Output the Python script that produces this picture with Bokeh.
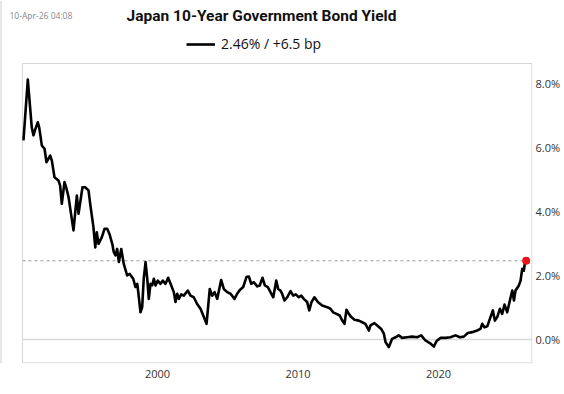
from bokeh.plotting import figure
from bokeh.models import (Range1d, FixedTicker, PrintfTickFormatter, Span, Label,
                          Legend, LegendItem)
from bokeh.embed import file_html
from bokeh.resources import INLINE

TITLE = "Japan 10-Year Government Bond Yield"
STAMP = "10-Apr-26 04:08"
LEGEND_LABEL = "2.46% / +6.5 bp"
LAST_VALUE = 2.46

x_ticks = [2000, 2010, 2020]
y_ticks = [0, 2, 4, 6, 8]

years = [
    1990.46, 1990.77, 1991.05, 1991.17, 1991.29, 1991.48, 1991.58, 1991.77, 1991.96,
    1992.10, 1992.36, 1992.48, 1992.67, 1992.95, 1993.07, 1993.19, 1993.38, 1993.50,
    1993.67, 1994.02, 1994.26, 1994.38, 1994.50, 1994.66, 1994.85, 1995.09, 1995.21,
    1995.44, 1995.57, 1995.68, 1995.80, 1996.04, 1996.23, 1996.42, 1996.58, 1996.78,
    1996.89, 1997.01, 1997.13, 1997.25, 1997.42, 1997.60, 1997.84, 1998.03, 1998.27,
    1998.43, 1998.56, 1998.63, 1998.79, 1998.91, 1999.02, 1999.15, 1999.27, 1999.38,
    1999.50, 1999.62, 1999.74, 1999.86, 2000.02, 2000.21, 2000.38, 2000.57, 2000.76,
    2000.93, 2001.16, 2001.28, 2001.40, 2001.52, 2001.69, 2001.87, 2002.16, 2002.35,
    2002.58, 2002.82, 2003.06, 2003.30, 2003.49, 2003.58, 2003.72, 2003.89, 2004.06,
    2004.25, 2004.53, 2004.72, 2004.96, 2005.20, 2005.48, 2005.67, 2005.86, 2006.10,
    2006.33, 2006.50, 2006.67, 2006.86, 2007.10, 2007.28, 2007.47, 2007.64, 2007.85,
    2008.04, 2008.24, 2008.45, 2008.59, 2008.75, 2008.87, 2009.04, 2009.23, 2009.47,
    2009.66, 2009.84, 2010.06, 2010.23, 2010.41, 2010.65, 2010.80, 2010.96, 2011.17,
    2011.41, 2011.72, 2012.08, 2012.31, 2012.50, 2012.74, 2012.97, 2013.15, 2013.31,
    2013.45, 2013.62, 2013.79, 2014.02, 2014.33, 2014.57, 2014.80, 2015.04, 2015.16,
    2015.44, 2015.64, 2015.92, 2016.11, 2016.23, 2016.46, 2016.70, 2016.94, 2017.17,
    2017.41, 2017.77, 2018.12, 2018.48, 2018.77, 2019.07, 2019.38, 2019.67, 2019.86,
    2020.14, 2020.50, 2020.85, 2021.21, 2021.52, 2021.80, 2022.09, 2022.40, 2022.75,
    2022.99, 2023.11, 2023.27, 2023.47, 2023.70, 2023.87, 2024.01, 2024.18, 2024.37,
    2024.53, 2024.70, 2024.89, 2025.08, 2025.25, 2025.37, 2025.48, 2025.72, 2025.84,
    2025.96, 2026.07, 2026.14, 2026.24,
]
yields = [
    6.22, 8.12, 6.63, 6.38, 6.55, 6.79, 6.63, 6.06, 5.96,
    5.54, 5.75, 5.59, 5.07, 4.97, 4.81, 4.24, 4.92, 4.76,
    4.45, 3.41, 4.50, 3.93, 4.29, 4.76, 4.76, 4.66, 4.24,
    3.51, 2.88, 3.35, 2.99, 3.20, 3.46, 3.46, 3.30, 2.99,
    2.73, 2.63, 2.83, 2.42, 2.83, 2.36, 2.00, 2.05, 1.90,
    1.64, 1.74, 1.48, 0.85, 1.01, 1.90, 2.42, 1.90, 1.27,
    1.74, 1.69, 1.90, 1.69, 1.84, 1.74, 1.84, 1.74, 1.93,
    1.74, 1.48, 1.17, 1.43, 1.27, 1.41, 1.37, 1.53, 1.37,
    1.32, 1.11, 0.96, 0.70, 0.49, 0.91, 1.58, 1.37, 1.48,
    1.27, 1.86, 1.58, 1.48, 1.43, 1.27, 1.43, 1.55, 1.64,
    1.95, 1.97, 1.74, 1.79, 1.66, 1.69, 1.93, 1.69, 1.64,
    1.48, 1.32, 1.84, 1.58, 1.53, 1.43, 1.22, 1.32, 1.51,
    1.37, 1.41, 1.32, 1.37, 1.27, 1.17, 0.91, 1.17, 1.32,
    1.17, 1.06, 1.01, 0.96, 0.85, 0.80, 0.75, 0.59, 0.49,
    0.93, 0.80, 0.70, 0.62, 0.59, 0.54, 0.49, 0.28, 0.44,
    0.51, 0.44, 0.33, 0.18, -0.08, -0.24, 0.02, 0.07, 0.13,
    0.05, 0.07, 0.09, 0.07, 0.13, -0.03, -0.11, -0.22, -0.05,
    0.05, 0.05, 0.07, 0.13, 0.07, 0.09, 0.20, 0.23, 0.28,
    0.33, 0.49, 0.38, 0.41, 0.70, 0.91, 0.59, 0.70, 0.96,
    0.80, 1.09, 0.85, 1.22, 1.53, 1.22, 1.53, 1.69, 1.84,
    2.21, 2.15, 2.36, 2.46,
]

FONT = "Open Sans"

# Frame covers the header area too (so texts are not clipped);
# the visible plot box is drawn inside it.
X_START, X_END = 1988.826, 2026.69
Y_START, Y_END = -0.75, 10.594
BOX_LEFT, BOX_TOP = 1990.39, 8.625
PX_X = 14.05   # pixels per year
PX_Y = 32.0    # pixels per percent

p = figure(width=564, height=394, output_backend="svg", toolbar_location=None,
           x_range=Range1d(X_START, X_END), y_range=Range1d(Y_START, Y_END),
           y_axis_location="right",
           min_border_left=0, min_border_right=32, min_border_top=0,
           min_border_bottom=31)

p.background_fill_color = "white"
p.border_fill_color = "white"
p.outline_line_color = None
p.grid.visible = False

for ax in (p.xaxis[0], p.yaxis[0]):
    ax.axis_line_color = None
    ax.major_tick_line_color = None
    ax.minor_tick_line_color = None
    ax.major_tick_out = 0
    ax.major_tick_in = 0
    ax.minor_tick_out = 0
    ax.minor_tick_in = 0
    ax.major_label_text_font = FONT
    ax.major_label_text_font_size = "11px"
    ax.major_label_text_color = "#333333"
p.xaxis[0].major_label_standoff = 6
p.yaxis[0].major_label_standoff = 3

p.xaxis[0].ticker = FixedTicker(ticks=x_ticks)
p.yaxis[0].ticker = FixedTicker(ticks=y_ticks)
p.yaxis[0].formatter = PrintfTickFormatter(format="%.1f%%")

# outer container edge on the left
p.add_layout(Span(location=X_START, dimension="height", line_color="#d0d0d0",
                  line_width=2))

# plot box
box_right = X_END - 0.6 / PX_X
box_bottom = Y_START + 0.6 / PX_Y
p.quad(left=[BOX_LEFT], right=[box_right], bottom=[box_bottom], top=[BOX_TOP],
       fill_color=None, line_color="#d6d6d6", line_width=1)

# zero line and last-value dashed line
p.segment(x0=[BOX_LEFT], x1=[box_right], y0=[0], y1=[0],
          line_color="#d9d9d9", line_width=1.5)
p.segment(x0=[BOX_LEFT], x1=[box_right], y0=[LAST_VALUE], y1=[LAST_VALUE],
          line_color="#9a9a9a", line_width=1, line_dash="3 3")

line = p.line(years, yields, line_color="black", line_width=2.6, line_join="round")
p.scatter([years[-1]], [yields[-1]], size=8, fill_color="#e8141c", line_color=None)

legend = Legend(items=[LegendItem(label=LEGEND_LABEL, renderers=[line])],
                location=(186, 363 - 53), glyph_width=29, glyph_height=18,
                label_standoff=6, padding=0, margin=0, spacing=0,
                border_line_alpha=0, background_fill_alpha=0,
                label_text_font=FONT, label_text_font_size="14px",
                label_text_color="#111111", label_height=18)
p.add_layout(legend, "center")

p.add_layout(Label(x=261, y=363 - 15, x_units="screen", y_units="screen", text=TITLE,
                   text_align="center", text_baseline="middle",
                   text_font="Roboto", text_font_style="bold",
                   text_font_size="15.5px", text_color="#111111"))
p.add_layout(Label(x=9, y=363 - 15, x_units="screen", y_units="screen", text=STAMP,
                   text_align="left", text_baseline="middle",
                   text_font=FONT, text_font_size="8.5px", text_color="#888888"))

open("out.html", "w").write(file_html(p, INLINE))
